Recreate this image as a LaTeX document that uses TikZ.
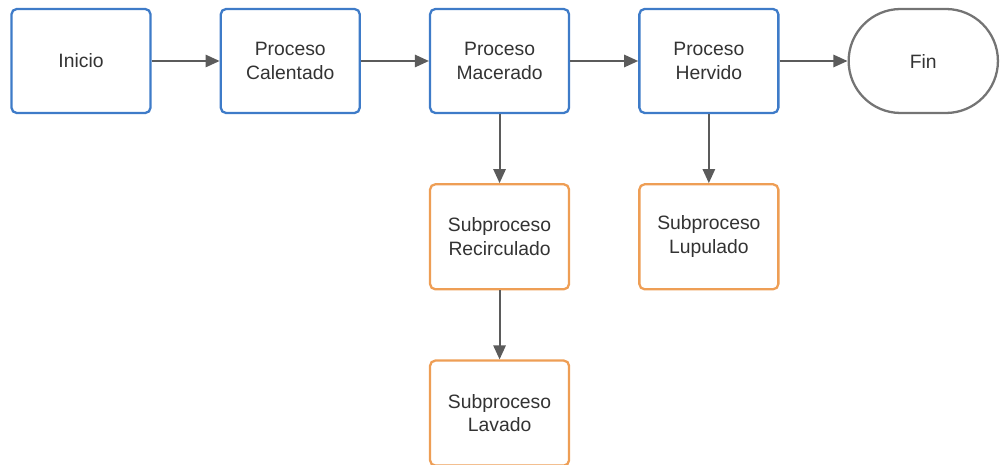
\documentclass[tikz,border=0pt]{standalone}
\usepackage{fontspec}
\setmainfont{Liberation Sans}
\usepackage{tikz}
\usetikzlibrary{shapes.misc, arrows.meta, positioning}
\definecolor{procblue}{HTML}{3E7BC8}
\definecolor{suborange}{HTML}{EE9E55}
\definecolor{arrgray}{HTML}{5B5B5B}
\definecolor{txtgray}{HTML}{333333}

\begin{document}
\begin{tikzpicture}[
  node distance=1.38cm and 1.36cm,
  box/.style={rectangle, draw=procblue, line width=1.3pt, fill=white, rounded corners=3pt,
              minimum width=2.78cm, minimum height=2.08cm, inner sep=2pt,
              font=\fontsize{11}{13.5}\selectfont, text=txtgray, align=center},
  subbox/.style={box, draw=suborange, minimum height=2.1cm},
  term/.style={rounded rectangle, draw=arrgray!85, line width=1.3pt, fill=white,
               minimum width=3.22cm, minimum height=2.08cm,
               font=\fontsize{11}{13.5}\selectfont, text=txtgray},
  arr/.style={-{Triangle[length=8pt, width=7pt]}, line width=1.1pt, arrgray},
]
  \useasboundingbox (0,0) rectangle (20,-9.3);
  \node[box] (inicio) at (1.62,-1.22) {Inicio};
  \node[box, right=of inicio] (calent) {Proceso\\Calentado};
  \node[box, right=of calent] (macer) {Proceso\\Macerado};
  \node[box, right=of macer] (herv) {Proceso\\Hervido};
  \node[term, right=of herv] (fin) {Fin};
  \node[subbox, below=of macer] (recirc) {Subproceso\\Recirculado};
  \node[subbox, below=of recirc] (lavado) {Subproceso\\Lavado};
  \node[subbox, below=of herv] (lupul) {Subproceso\\Lupulado};
  \draw[arr] (inicio) -- (calent);
  \draw[arr] (calent) -- (macer);
  \draw[arr] (macer) -- (herv);
  \draw[arr] (herv) -- (fin);
  \draw[arr] (macer) -- (recirc);
  \draw[arr] (recirc) -- (lavado);
  \draw[arr] (herv) -- (lupul);
\end{tikzpicture}
\end{document}
